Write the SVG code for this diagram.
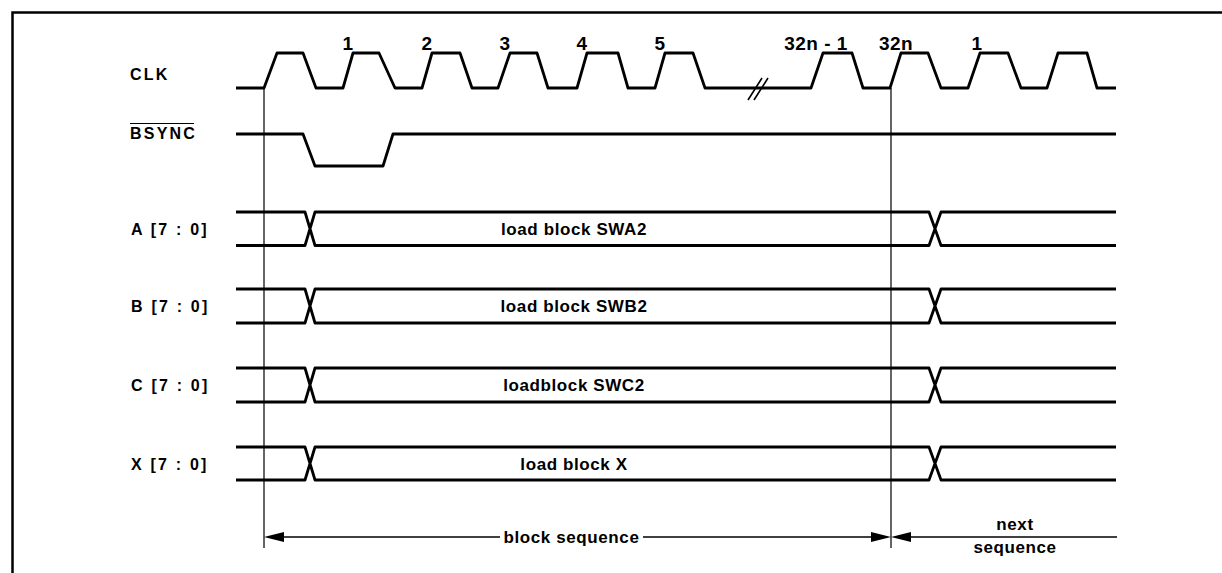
<svg xmlns="http://www.w3.org/2000/svg" width="1222" height="573" viewBox="0 0 1222 573">
<style>
  .frame { fill: none; stroke: #000; stroke-width: 2.5; }
  .sig { fill: none; stroke: #000; stroke-width: 2.8; stroke-linejoin: round; }
  .ref { fill: none; stroke: #000; stroke-width: 1.2; }
  .dim { fill: none; stroke: #000; stroke-width: 1.6; }
  .lbl { font-family: "Liberation Sans", Arial, sans-serif; font-weight: bold; font-size: 16px; letter-spacing: 2.2px; fill: #000; }
  .num { font-family: "Liberation Sans", Arial, sans-serif; font-weight: bold; font-size: 19px; letter-spacing: 0.5px; fill: #000; text-anchor: middle; }
  .txt { font-family: "Liberation Sans", Arial, sans-serif; font-weight: bold; font-size: 17px; letter-spacing: 0.6px; fill: #000; text-anchor: middle; }
</style>
<defs>
  <marker id="arr" viewBox="0 0 20 10" refX="0" refY="5" markerWidth="20" markerHeight="10" markerUnits="userSpaceOnUse" orient="auto-start-reverse">
    <path d="M20,5 L0,0 L0,10 Z" fill="#000"/>
  </marker>
</defs>
<rect width="1222" height="573" fill="#fff"/>
<path class="frame" d="M12.5,580 V12.5 H1230"/>

<g id="clk">
  <text class="lbl" x="130" y="80">CLK</text>
  <path class="sig" d="M236,88 H264 L277,53 H303 L316,88 H343 L353,53 H379 L395,88 H422 L432,53 H460 L472,88 H498 L510,53 H537 L548,88 H577 L587,53 H618 L628,88 H655 L665,53 H693 L705,88 H811 L823,53 H852 L863,88 H890 L901,53 H928 L941,88 H968 L980,53 H1008 L1021,88 H1047 L1058,53 H1087 L1097,88 H1116"/>
  <path class="dim" d="M748,100 L762,78 M754,100 L768,78"/>
  <text class="num" x="348" y="50">1</text>
  <text class="num" x="427" y="50">2</text>
  <text class="num" x="505" y="50">3</text>
  <text class="num" x="582" y="50">4</text>
  <text class="num" x="660" y="50">5</text>
  <text class="num" x="816" y="50">32n - 1</text>
  <text class="num" x="896" y="50">32n</text>
  <text class="num" x="977" y="50">1</text>
</g>

<g id="bsync">
  <text class="lbl" x="130" y="139">BSYNC</text>
  <path class="ref" d="M130,123.5 H194"/>
  <path class="sig" d="M236,134 H303 L315,166 H383 L393,134 H1116"/>
</g>

<g id="bus-a">
  <text class="lbl" x="131" y="235">A [7 : 0]</text>
  <path class="sig" d="M236,212 H305 L315,245.5 H929 L941,212 H1116 M236,245.5 H305 L315,212 H929 L941,245.5 H1116"/>
  <text class="txt" x="574" y="235">load block SWA2</text>
</g>

<g id="bus-b">
  <text class="lbl" x="131" y="312">B [7 : 0]</text>
  <path class="sig" d="M236,289 H305 L315,323 H929 L941,289 H1116 M236,323 H305 L315,289 H929 L941,323 H1116"/>
  <text class="txt" x="574" y="312">load block SWB2</text>
</g>

<g id="bus-c">
  <text class="lbl" x="131" y="391">C [7 : 0]</text>
  <path class="sig" d="M236,368 H305 L315,402 H929 L941,368 H1116 M236,402 H305 L315,368 H929 L941,402 H1116"/>
  <text class="txt" x="574" y="391">loadblock SWC2</text>
</g>

<g id="bus-x">
  <text class="lbl" x="131" y="470">X [7 : 0]</text>
  <path class="sig" d="M236,447 H305 L315,480 H929 L941,447 H1116 M236,480 H305 L315,447 H929 L941,480 H1116"/>
  <text class="txt" x="574" y="470">load block X</text>
</g>

<g id="connectors">
  <path class="ref" d="M264,88 V548 M891,88 V548"/>
  <path class="dim" d="M500,537 H284" marker-end="url(#arr)"/>
  <path class="dim" d="M643,537 H871" marker-end="url(#arr)"/>
  <path class="dim" d="M1117,537 H911" marker-end="url(#arr)"/>
</g>

<g id="labels">
  <text class="txt" x="571.5" y="543">block sequence</text>
  <text class="txt" x="1015" y="530">next</text>
  <text class="txt" x="1015" y="553">sequence</text>
</g>
</svg>
